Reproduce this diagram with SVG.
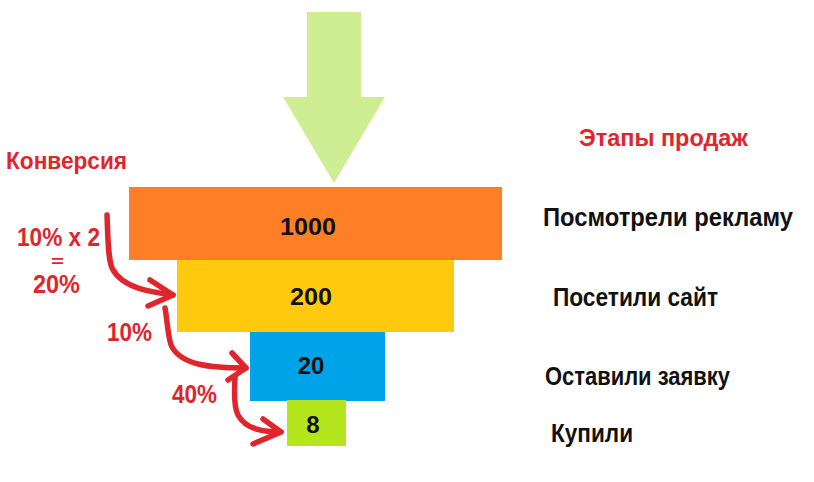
<svg xmlns="http://www.w3.org/2000/svg" width="814" height="482" viewBox="0 0 814 482">
<style>
.t{font-family:"Liberation Sans",Arial,sans-serif;font-weight:bold;}
.blk{fill:#111;}
.red{fill:#e0252d;}
.conn{fill:none;stroke:#e0252d;stroke-width:5.5;stroke-linecap:round;stroke-linejoin:round;}
</style>
<rect width="814" height="482" fill="#fff"/>
<g id="big-arrow">
<polygon points="307,12 361,12 361,97 385,97 334,183 283,97 307,97" fill="#cfed92"/>
</g>
<g id="title-conv"><text class="t red" x="6" y="169" font-size="24" textLength="121" lengthAdjust="spacingAndGlyphs">Конверсия</text></g>
<g id="title-stages"><text class="t red" x="579" y="146" font-size="24" textLength="169" lengthAdjust="spacingAndGlyphs">Этапы продаж</text></g>
<g id="node-1000">
<rect x="129" y="187" width="373" height="73" fill="#ff7f27"/>
<text class="t blk" x="308" y="235" font-size="24" text-anchor="middle" textLength="56" lengthAdjust="spacingAndGlyphs">1000</text>
</g>
<g id="node-200">
<rect x="177" y="260" width="277" height="72" fill="#ffc90e"/>
<text class="t blk" x="311" y="305" font-size="24" text-anchor="middle" textLength="42" lengthAdjust="spacingAndGlyphs">200</text>
</g>
<g id="node-20">
<rect x="250" y="332" width="135" height="69" fill="#00a2e8"/>
<text class="t blk" x="311" y="374" font-size="24" text-anchor="middle">20</text>
</g>
<g id="node-8">
<rect x="287" y="400" width="59" height="46" fill="#b5e61d"/>
<text class="t blk" x="313" y="433" font-size="24" text-anchor="middle">8</text>
</g>
<g id="labels">
<text class="t blk" x="543" y="226" font-size="25" textLength="250" lengthAdjust="spacingAndGlyphs">Посмотрели рекламу</text>
<text class="t blk" x="553" y="306" font-size="25" textLength="165" lengthAdjust="spacingAndGlyphs">Посетили сайт</text>
<text class="t blk" x="545" y="385" font-size="25" textLength="185" lengthAdjust="spacingAndGlyphs">Оставили заявку</text>
<text class="t blk" x="551" y="442" font-size="25" textLength="82" lengthAdjust="spacingAndGlyphs">Купили</text>
</g>
<g id="rates">
<text class="t red" x="17" y="246" font-size="25" textLength="83" lengthAdjust="spacingAndGlyphs">10% x 2</text>
<text class="t red" x="51" y="267" font-size="17" textLength="13" lengthAdjust="spacingAndGlyphs">=</text>
<text class="t red" x="33" y="293" font-size="25" textLength="47" lengthAdjust="spacingAndGlyphs">20%</text>
<text class="t red" x="107" y="341" font-size="25" textLength="45" lengthAdjust="spacingAndGlyphs">10%</text>
<text class="t red" x="172" y="403" font-size="25" textLength="45" lengthAdjust="spacingAndGlyphs">40%</text>
</g>
<g id="connectors">
<path class="conn" d="M107,215 C108,240 108,258 112,268 C122,288 150,292 173,295"/>
<path class="conn" d="M150,280 L173,295 L148,306"/>
<path class="conn" d="M165,308 C168,325 168,340 172,347 C182,365 210,368 246,368"/>
<path class="conn" d="M232,353 L246,368 L228,380"/>
<path class="conn" d="M235,378 C234,395 234,408 238,415 C246,430 265,432 281,432"/>
<path class="conn" d="M263,419 L281,432 L253,444"/>
</g>
</svg>
